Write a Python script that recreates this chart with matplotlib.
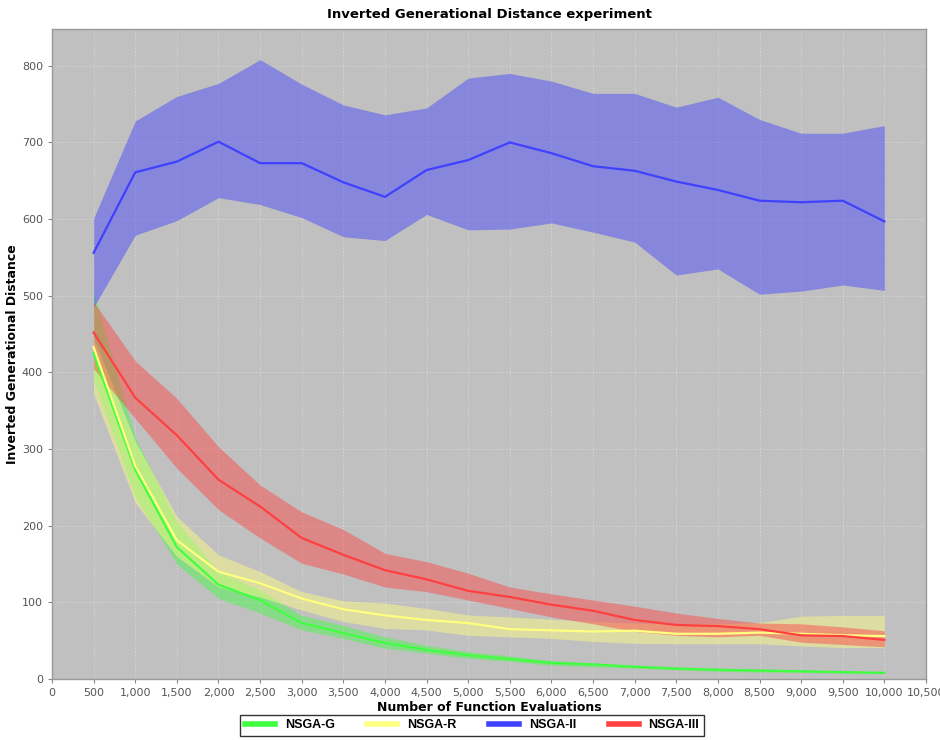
import matplotlib
matplotlib.use("Agg")
import matplotlib.pyplot as plt
from matplotlib.ticker import FuncFormatter, MultipleLocator

evals = [500, 1000, 1500, 2000, 2500, 3000, 3500, 4000, 4500, 5000,
         5500, 6000, 6500, 7000, 7500, 8000, 8500, 9000, 9500, 10000]

# NSGA-G
g_mean = [425, 273, 172, 123, 103, 73, 60, 47, 38, 31, 26, 21, 19, 16, 13.5, 12, 11, 10, 9, 8]
g_up = [505, 315, 205, 140, 116, 83, 70, 55, 44, 35.6, 30, 24, 21, 18, 16, 14, 13, 12, 10, 9]
g_lo = [390, 238, 150, 105, 86, 64, 53, 40, 33.5, 27, 23, 18, 16, 14, 12, 10, 9, 8.5, 7.5, 7]

# NSGA-R
r_mean = [433, 278, 181, 140, 125, 105, 91, 83, 77, 73, 65, 63.5, 62, 63, 59, 59, 60.5, 59, 57, 56]
r_up = [445, 310, 212, 162, 140, 114, 102, 99, 92, 83.5, 81, 78, 75, 73, 72, 72, 73.5, 82, 83, 83]
r_lo = [372, 230, 160, 120, 107, 90, 75, 66, 64, 57, 55, 53, 49, 46.5, 46, 46, 46, 43, 41, 41]

# NSGA-II
ii_mean = [556, 661, 675, 701, 673, 673, 648, 629, 664, 677,
           700, 686, 669, 663, 649, 638, 624, 622, 624, 597]
ii_up = [601, 728, 760, 777, 808, 776, 749, 736, 745, 784,
         790, 780, 764, 764, 746, 759, 730, 712, 712, 722]
ii_lo = [485, 579, 598, 628, 619, 602, 577, 572, 606, 586,
         587, 595, 583, 570, 527, 535, 502, 506, 514, 507]

# NSGA-III
iii_mean = [452, 367, 318, 260, 225, 184, 162, 142, 130, 115,
            107, 97, 89, 77, 70.5, 69, 65, 57, 56, 51]
iii_up = [492, 415, 366, 303, 253, 218, 195, 164, 153, 138,
          120, 111, 103, 95, 86, 79, 73, 72, 68, 63]
iii_lo = [405, 340, 275, 221, 184, 151, 137, 120, 114, 103,
          92, 81, 72, 62, 57, 55, 57, 48, 45, 42]

series = [
    ("NSGA-G", g_mean, g_up, g_lo, "#40ff40"),
    ("NSGA-R", r_mean, r_up, r_lo, "#ffff80"),
    ("NSGA-II", ii_mean, ii_up, ii_lo, "#4040ff"),
    ("NSGA-III", iii_mean, iii_up, iii_lo, "#ff4040"),
]

fig = plt.figure(figsize=(9.4, 7.4), dpi=100)
ax = fig.add_axes([52/940, 1-679/740, (926-52)/940, (679-29)/740])
ax.set_facecolor("#c0c0c0")

for name, m, u, l, c in series:
    ax.fill_between(evals, l, u, color=c, alpha=0.45, linewidth=0, zorder=2)
handles = []
for name, m, u, l, c in series:
    ax.plot(evals, m, color=c, lw=1.6, zorder=3)
    h, = ax.plot([], [], color=c, lw=4, label=name)
    handles.append(h)

ax.set_xlim(0, 10500)
ax.set_ylim(0, 848)
ax.xaxis.set_major_locator(MultipleLocator(500))
ax.yaxis.set_major_locator(MultipleLocator(100))
ax.xaxis.set_major_formatter(FuncFormatter(lambda v, p: f"{int(v):,}"))
ax.grid(True, color="#e8e8e8", linestyle=(0, (2, 2)), linewidth=0.6, alpha=0.55, zorder=1)
ax.set_axisbelow(True)
for s in ax.spines.values():
    s.set_color("#999999")
    s.set_linewidth(1.0)
ax.tick_params(axis="both", colors="#888888", labelcolor="#555555", labelsize=8, length=3, width=0.8)

ax.set_title("Inverted Generational Distance experiment", fontsize=9.5, fontweight="bold", pad=8)
ax.set_xlabel("Number of Function Evaluations", fontsize=9, fontweight="bold", labelpad=2)
ax.set_ylabel("Inverted Generational Distance", fontsize=9, fontweight="bold", labelpad=2)

leg = fig.legend(handles=handles, loc="center", bbox_to_anchor=(472/940, 1-725.5/740), ncol=4,
                 frameon=True, fancybox=False, edgecolor="black", handlelength=2.4,
                 columnspacing=2.6, handletextpad=0.8, borderpad=0.35,
                 prop={"family": "Liberation Sans", "weight": "bold", "size": 9})
leg.get_frame().set_linewidth(1.0)

fig.savefig("out.png", dpi=100)
